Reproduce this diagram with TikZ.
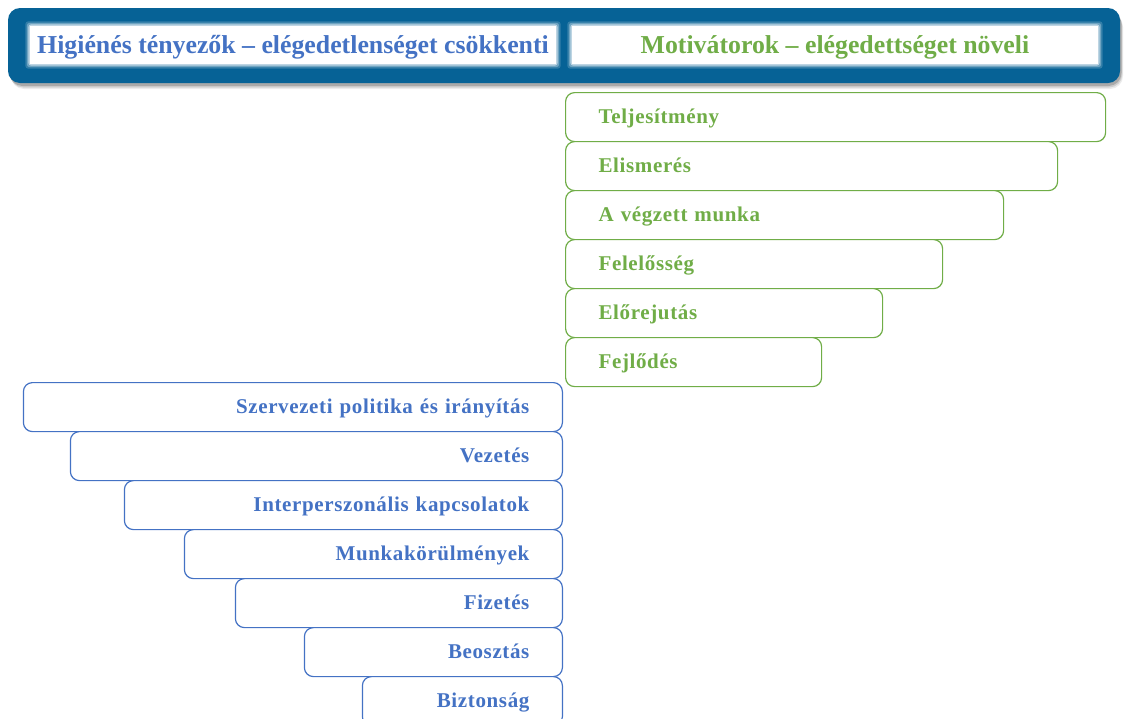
\documentclass[tikz,border=0pt]{standalone}
\usepackage{fontspec}
\setmainfont{Liberation Serif}
\newfontfamily\itemfont[LetterSpace=3]{Liberation Serif}
\definecolor{hdrblue}{RGB}{6,98,150}
\definecolor{hygblue}{RGB}{68,114,196}
\definecolor{motgreen}{RGB}{112,173,71}

\begin{document}
\begin{tikzpicture}[x=1pt,y=-1pt,
  item/.style={draw, line width=1.2pt, rounded corners=9pt, fill=white,
    minimum height=49pt, inner xsep=33pt, inner ysep=0pt,
    text height=15pt, text depth=2pt,
    font=\itemfont\bfseries\fontsize{21}{24}\selectfont},
  motbox/.style={item, draw=motgreen, text=motgreen, align=left,
    anchor=north west, text width=#1},
  hygbox/.style={item, draw=hygblue, text=hygblue, align=right,
    anchor=north east, text width=#1},
  headbox/.style={fill=white, minimum width=526pt, minimum height=38pt,
    inner sep=0pt},
  headtext/.style={inner sep=0pt, font=\bfseries\fontsize{25.8}{29}\selectfont},
  glow/.style={fill=white, fill opacity=#1, rounded corners=3pt}
]
\useasboundingbox (0,0) rectangle (1127,718);

% banner with its soft shadow
\foreach \s/\o in {6/0.08,4.5/0.12,3/0.18}
  \fill[black, fill opacity=\o, rounded corners=13pt]
    (8+\s*0.5,8+\s) rectangle (1120+\s*0.5,83+\s);
\node[fill=hdrblue, rounded corners=12pt, minimum width=1112pt,
      minimum height=75pt, inner sep=0pt] (header) at (564,45.5) {};

% white title panels with a soft edge
\node[headbox] (hygpanel) at (293,45) {};
\node[headbox] (motpanel) at (835,45) {};
\foreach \n in {hygpanel,motpanel}
  \foreach \g/\o in {4.5/0.18,3/0.3,1.5/0.55}
    \fill[glow=\o] ([xshift=-\g pt,yshift=-\g pt]\n.south west)
      rectangle ([xshift=\g pt,yshift=\g pt]\n.north east);

% column titles
\node[headtext, text=hygblue] (hyghead) at ([yshift=-2pt]hygpanel.center)
  {Higiénés tényezők – elégedetlenséget csökkenti};
\node[headtext, text=motgreen] (mothead) at ([yshift=-2pt]motpanel.center)
  {Motivátorok – elégedettséget növeli};

% motivators
\node[motbox=474pt] (m1) at (565,92)  {Teljesítmény};
\node[motbox=426pt] (m2) at (565,141) {Elismerés};
\node[motbox=372pt] (m3) at (565,190) {A végzett munka};
\node[motbox=311pt] (m4) at (565,239) {Felelősség};
\node[motbox=251pt] (m5) at (565,288) {Előrejutás};
\node[motbox=190pt] (m6) at (565,337) {Fejlődés};

% hygiene factors
\node[hygbox=473pt] (h1) at (563,382) {Szervezeti politika és irányítás};
\node[hygbox=426pt] (h2) at (563,431) {Vezetés};
\node[hygbox=372pt] (h3) at (563,480) {Interperszonális kapcsolatok};
\node[hygbox=312pt] (h4) at (563,529) {Munkakörülmények};
\node[hygbox=261pt] (h5) at (563,578) {Fizetés};
\node[hygbox=192pt] (h6) at (563,627) {Beosztás};
\node[hygbox=134pt] (h7) at (563,676) {Biztonság};
\end{tikzpicture}
\end{document}
